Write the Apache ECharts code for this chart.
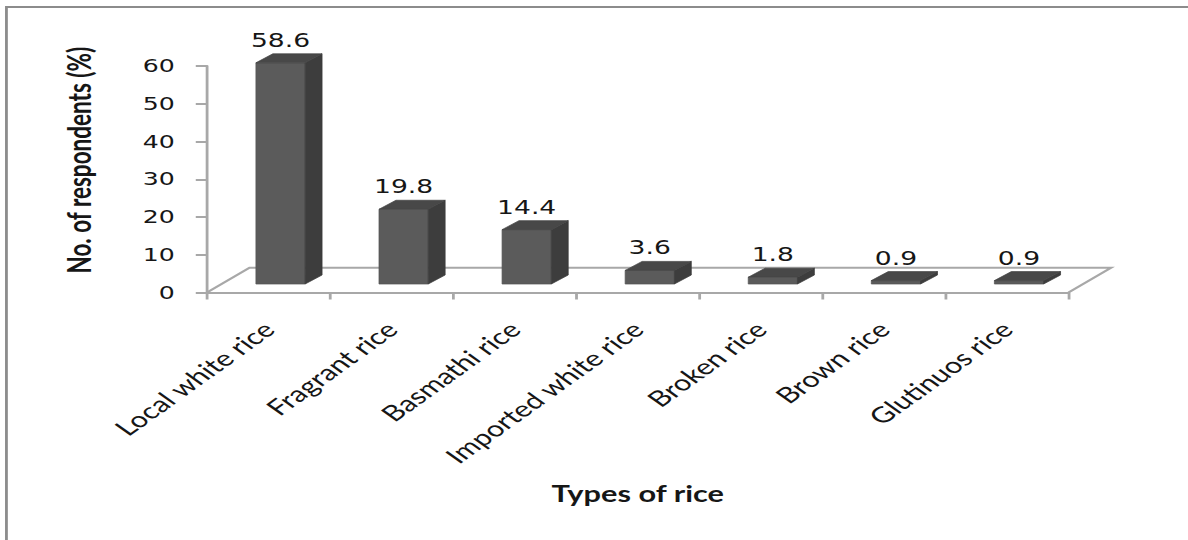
<!DOCTYPE html>
<html>
<head>
<meta charset="utf-8">
<script src="https://cdn.jsdelivr.net/npm/echarts@6/dist/echarts.min.js"></script>
<style>
  html, body { margin: 0; padding: 0; background: #ffffff; overflow: hidden; }
  /* the chart is laid out on a narrower canvas and widened to the window */
  #chart { width: 849px; height: 540px; transform: scaleX(1.3993); transform-origin: 0 0; }
</style>
</head>
<body>
<div id="chart"></div>
<script>
// Preferred types of rice
const categories = ['Local white rice', 'Fragrant rice', 'Basmathi rice', 'Imported white rice', 'Broken rice', 'Brown rice', 'Glutinuos rice'];
const respondents = [58.6, 19.8, 14.4, 3.6, 1.8, 0.9, 0.9];
const yMin = 0;
const yMax = 60;
const yStep = 10;

// pseudo-3D look
const FLOOR_DEPTH = [30.4, -24.8];   // floor back edge relative to the axis line
const BAR_FRONT = [8.6, -8.5];       // bar front face relative to the axis line
const BAR_DEPTH = [12.1, -9];        // bar thickness
const BAR_RATIO = 0.4;
const FRONT_COLOR = '#5b5b5b';
const SIDE_COLOR = '#3d3d3d';
const TOP_COLOR = '#484848';
const LINE_COLOR = '#a8a8a8';
const TEXT_COLOR = '#161616';

function renderFloor(params) {
  const cs = params.coordSys;
  const fl = [cs.x, cs.y + cs.height];
  const fr = [cs.x + cs.width, cs.y + cs.height];
  const bl = [fl[0] + FLOOR_DEPTH[0], fl[1] + FLOOR_DEPTH[1]];
  const br = [fr[0] + FLOOR_DEPTH[0], fr[1] + FLOOR_DEPTH[1]];
  return {
    type: 'polyline',
    shape: { points: [fl, bl, br, fr] },
    style: { stroke: LINE_COLOR, lineWidth: 2, fill: null }
  };
}

function renderBar(params, api) {
  const i = api.value(0);
  const v = api.value(1);
  const base = api.coord([i, 0]);
  const tip = api.coord([i, v]);
  const bw = api.size([1, 0])[0] * BAR_RATIO;
  const xl = base[0] + BAR_FRONT[0] - bw / 2;
  const xr = xl + bw;
  const yb = base[1] + BAR_FRONT[1];
  const yt = tip[1] + BAR_FRONT[1];
  const dx = BAR_DEPTH[0], dy = BAR_DEPTH[1];
  return {
    type: 'group',
    children: [
      { type: 'polygon', shape: { points: [[xl, yb], [xr, yb], [xr, yt], [xl, yt]] },
        style: { fill: FRONT_COLOR, stroke: '#555', lineWidth: 0.6 } },
      { type: 'polygon', shape: { points: [[xr, yb], [xr + dx, yb + dy], [xr + dx, yt + dy], [xr, yt]] },
        style: { fill: SIDE_COLOR, stroke: '#3a3a3a', lineWidth: 0.6 } },
      { type: 'polygon', shape: { points: [[xl, yt], [xr, yt], [xr + dx, yt + dy], [xl + dx, yt + dy]] },
        style: { fill: TOP_COLOR, stroke: '#444', lineWidth: 0.6 } },
      { type: 'text',
        style: {
          text: String(v),
          x: (xl + xr) / 2,
          y: yt + dy - 4,
          align: 'center', verticalAlign: 'bottom',
          textAlign: 'center', textVerticalAlign: 'bottom',
          fill: TEXT_COLOR,
          font: '19px "DejaVu Sans"'
        } }
    ]
  };
}

const chart = echarts.init(document.getElementById('chart'), null, { renderer: 'svg' });
chart.setOption({
  animation: false,
  backgroundColor: '#ffffff',
  graphic: [{
    type: 'rect',
    shape: { x: 4.6, y: 7, width: 900, height: 600 },
    style: { fill: null, stroke: '#8c8c8c', lineWidth: 2 },
    silent: true
  }],
  grid: { left: 147.9, top: 66, width: 615.7, height: 226.5, containLabel: false },
  xAxis: {
    type: 'category',
    data: categories,
    boundaryGap: true,
    name: 'Types of rice',
    nameLocation: 'middle',
    nameGap: 190,
    nameTextStyle: { fontFamily: 'Lato', fontWeight: 'bold', fontSize: 22, color: TEXT_COLOR },
    axisLine: { show: true, lineStyle: { color: LINE_COLOR, width: 2 } },
    axisTick: { show: true, length: 7, lineStyle: { color: LINE_COLOR, width: 2 } },
    axisLabel: {
      interval: 0, rotate: 45, margin: 33,
      fontFamily: 'Lato', fontSize: 22, color: TEXT_COLOR
    },
    splitLine: { show: false }
  },
  yAxis: {
    type: 'value',
    min: yMin, max: yMax, interval: yStep,
    name: 'No. of respondents (%)',
    nameLocation: 'middle',
    nameRotate: 90,
    nameGap: 80,
    nameTextStyle: { fontFamily: 'Lato', fontWeight: 'bold', fontSize: 22.5, color: TEXT_COLOR, padding: [0, 0, 0, 38] },
    axisLine: { show: true, lineStyle: { color: LINE_COLOR, width: 2 } },
    axisTick: { show: true, length: 8, lineStyle: { color: LINE_COLOR, width: 2 } },
    axisLabel: { margin: 23, fontFamily: 'DejaVu Sans', fontSize: 18, color: TEXT_COLOR },
    splitLine: { show: false }
  },
  series: [
    {
      type: 'custom',
      name: 'floor',
      silent: true,
      z: 1,
      renderItem: renderFloor,
      data: [[0, 0]]
    },
    {
      type: 'custom',
      name: 'respondents',
      z: 2,
      renderItem: renderBar,
      encode: { x: 0, y: 1 },
      data: respondents.map((v, i) => [i, v])
    }
  ]
});
</script>
</body>
</html>
